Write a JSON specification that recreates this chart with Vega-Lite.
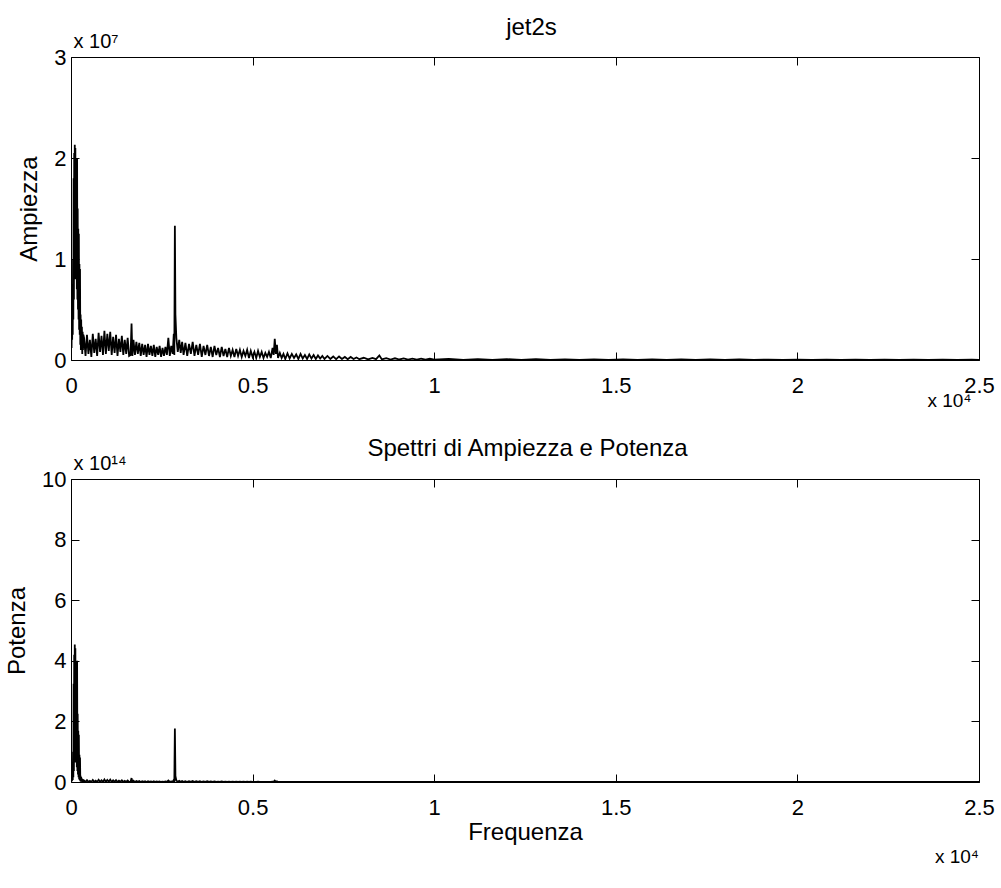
{
  "$schema": "https://vega.github.io/schema/vega-lite/v6.json",
  "background": "white",
  "padding": {"left": 5, "top": 14, "right": 2, "bottom": 2},
  "bounds": "flush",
  "spacing": 119,
  "config": {
    "font": "Liberation Sans",
    "view": {"stroke": "black", "strokeWidth": 1},
    "axis": {
      "domain": false, "grid": false, "tickColor": "black", "tickSize": -8, "tickWidth": 1,
      "labelColor": "black", "titleColor": "black", "labelFont": "Liberation Sans", "titleFont": "Liberation Sans",
      "labelFontSize": 22, "titleFontSize": 24, "titleFontWeight": "normal", "labelFlush": false, "labelOverlap": false
    },
    "title": {"font": "Liberation Sans", "fontWeight": "normal", "color": "black"}
  },
  "data": {"values": [
    {"freq": 0, "amp": 0.02, "pow": 0.0004},
    {"freq": 8, "amp": 0.7, "pow": 0.49},
    {"freq": 16, "amp": 0.12, "pow": 0.0144},
    {"freq": 24, "amp": 0.6, "pow": 0.36},
    {"freq": 32, "amp": 0.2, "pow": 0.04},
    {"freq": 40, "amp": 0.75, "pow": 0.5625},
    {"freq": 48, "amp": 0.25, "pow": 0.0625},
    {"freq": 56, "amp": 1.0, "pow": 1.0},
    {"freq": 64, "amp": 0.4, "pow": 0.16},
    {"freq": 72, "amp": 1.8, "pow": 3.24},
    {"freq": 80, "amp": 0.6, "pow": 0.36},
    {"freq": 88, "amp": 2.05, "pow": 4.2025},
    {"freq": 96, "amp": 0.9, "pow": 0.81},
    {"freq": 104, "amp": 2.13, "pow": 4.5369},
    {"freq": 112, "amp": 1.0, "pow": 1.0},
    {"freq": 120, "amp": 2.1, "pow": 4.41},
    {"freq": 128, "amp": 0.8, "pow": 0.64},
    {"freq": 136, "amp": 1.95, "pow": 3.8025},
    {"freq": 144, "amp": 0.9, "pow": 0.81},
    {"freq": 152, "amp": 2.0, "pow": 4.0},
    {"freq": 160, "amp": 0.7, "pow": 0.49},
    {"freq": 168, "amp": 2.0, "pow": 4.0},
    {"freq": 176, "amp": 0.6, "pow": 0.36},
    {"freq": 184, "amp": 1.5, "pow": 2.25},
    {"freq": 192, "amp": 0.5, "pow": 0.25},
    {"freq": 200, "amp": 1.3, "pow": 1.69},
    {"freq": 208, "amp": 0.4, "pow": 0.16},
    {"freq": 216, "amp": 1.25, "pow": 1.5625},
    {"freq": 224, "amp": 0.3, "pow": 0.09},
    {"freq": 232, "amp": 0.95, "pow": 0.9025},
    {"freq": 240, "amp": 0.25, "pow": 0.0625},
    {"freq": 248, "amp": 0.9, "pow": 0.81},
    {"freq": 256, "amp": 0.15, "pow": 0.0225},
    {"freq": 264, "amp": 0.45, "pow": 0.2025},
    {"freq": 272, "amp": 0.1, "pow": 0.01},
    {"freq": 280, "amp": 0.4, "pow": 0.16},
    {"freq": 290, "amp": 0.12, "pow": 0.0144},
    {"freq": 300, "amp": 0.33, "pow": 0.1089},
    {"freq": 310, "amp": 0.06, "pow": 0.0036},
    {"freq": 320, "amp": 0.28, "pow": 0.0784},
    {"freq": 330, "amp": 0.1, "pow": 0.01},
    {"freq": 340, "amp": 0.25, "pow": 0.0625},
    {"freq": 360, "amp": 0.22, "pow": 0.0484},
    {"freq": 400, "amp": 0.04, "pow": 0.0016},
    {"freq": 440, "amp": 0.25, "pow": 0.0625},
    {"freq": 480, "amp": 0.06, "pow": 0.0036},
    {"freq": 520, "amp": 0.2, "pow": 0.04},
    {"freq": 560, "amp": 0.03, "pow": 0.0009},
    {"freq": 600, "amp": 0.26, "pow": 0.0676},
    {"freq": 640, "amp": 0.07, "pow": 0.0049},
    {"freq": 680, "amp": 0.21, "pow": 0.0441},
    {"freq": 720, "amp": 0.04, "pow": 0.0016},
    {"freq": 760, "amp": 0.27, "pow": 0.0729},
    {"freq": 800, "amp": 0.08, "pow": 0.0064},
    {"freq": 840, "amp": 0.24, "pow": 0.0576},
    {"freq": 880, "amp": 0.05, "pow": 0.0025},
    {"freq": 920, "amp": 0.29, "pow": 0.0841},
    {"freq": 960, "amp": 0.06, "pow": 0.0036},
    {"freq": 1000, "amp": 0.26, "pow": 0.0676},
    {"freq": 1040, "amp": 0.09, "pow": 0.0081},
    {"freq": 1080, "amp": 0.28, "pow": 0.0784},
    {"freq": 1120, "amp": 0.05, "pow": 0.0025},
    {"freq": 1160, "amp": 0.23, "pow": 0.0529},
    {"freq": 1200, "amp": 0.07, "pow": 0.0049},
    {"freq": 1240, "amp": 0.25, "pow": 0.0625},
    {"freq": 1280, "amp": 0.04, "pow": 0.0016},
    {"freq": 1320, "amp": 0.21, "pow": 0.0441},
    {"freq": 1360, "amp": 0.08, "pow": 0.0064},
    {"freq": 1400, "amp": 0.24, "pow": 0.0576},
    {"freq": 1440, "amp": 0.05, "pow": 0.0025},
    {"freq": 1480, "amp": 0.2, "pow": 0.04},
    {"freq": 1520, "amp": 0.06, "pow": 0.0036},
    {"freq": 1560, "amp": 0.22, "pow": 0.0484},
    {"freq": 1600, "amp": 0.04, "pow": 0.0016},
    {"freq": 1640, "amp": 0.05, "pow": 0.0025},
    {"freq": 1667, "amp": 0.36, "pow": 0.1296},
    {"freq": 1690, "amp": 0.04, "pow": 0.0016},
    {"freq": 1720, "amp": 0.2, "pow": 0.04},
    {"freq": 1760, "amp": 0.05, "pow": 0.0025},
    {"freq": 1800, "amp": 0.18, "pow": 0.0324},
    {"freq": 1840, "amp": 0.06, "pow": 0.0036},
    {"freq": 1880, "amp": 0.17, "pow": 0.0289},
    {"freq": 1920, "amp": 0.04, "pow": 0.0016},
    {"freq": 1960, "amp": 0.16, "pow": 0.0256},
    {"freq": 2000, "amp": 0.05, "pow": 0.0025},
    {"freq": 2040, "amp": 0.15, "pow": 0.0225},
    {"freq": 2080, "amp": 0.03, "pow": 0.0009},
    {"freq": 2120, "amp": 0.16, "pow": 0.0256},
    {"freq": 2160, "amp": 0.05, "pow": 0.0025},
    {"freq": 2200, "amp": 0.14, "pow": 0.0196},
    {"freq": 2240, "amp": 0.04, "pow": 0.0016},
    {"freq": 2280, "amp": 0.15, "pow": 0.0225},
    {"freq": 2320, "amp": 0.03, "pow": 0.0009},
    {"freq": 2360, "amp": 0.13, "pow": 0.0169},
    {"freq": 2400, "amp": 0.05, "pow": 0.0025},
    {"freq": 2440, "amp": 0.14, "pow": 0.0196},
    {"freq": 2480, "amp": 0.03, "pow": 0.0009},
    {"freq": 2520, "amp": 0.12, "pow": 0.0144},
    {"freq": 2560, "amp": 0.04, "pow": 0.0016},
    {"freq": 2600, "amp": 0.13, "pow": 0.0169},
    {"freq": 2640, "amp": 0.05, "pow": 0.0025},
    {"freq": 2680, "amp": 0.22, "pow": 0.0484},
    {"freq": 2720, "amp": 0.04, "pow": 0.0016},
    {"freq": 2760, "amp": 0.14, "pow": 0.0196},
    {"freq": 2800, "amp": 0.06, "pow": 0.0036},
    {"freq": 2830, "amp": 0.26, "pow": 0.0676},
    {"freq": 2845, "amp": 0.05, "pow": 0.0025},
    {"freq": 2860, "amp": 1.33, "pow": 1.7689},
    {"freq": 2875, "amp": 0.45, "pow": 0.2025},
    {"freq": 2900, "amp": 0.22, "pow": 0.0484},
    {"freq": 2940, "amp": 0.08, "pow": 0.0064},
    {"freq": 2980, "amp": 0.2, "pow": 0.04},
    {"freq": 3020, "amp": 0.07, "pow": 0.0049},
    {"freq": 3060, "amp": 0.18, "pow": 0.0324},
    {"freq": 3100, "amp": 0.05, "pow": 0.0025},
    {"freq": 3150, "amp": 0.17, "pow": 0.0289},
    {"freq": 3200, "amp": 0.04, "pow": 0.0016},
    {"freq": 3250, "amp": 0.16, "pow": 0.0256},
    {"freq": 3300, "amp": 0.06, "pow": 0.0036},
    {"freq": 3350, "amp": 0.18, "pow": 0.0324},
    {"freq": 3400, "amp": 0.04, "pow": 0.0016},
    {"freq": 3450, "amp": 0.15, "pow": 0.0225},
    {"freq": 3500, "amp": 0.05, "pow": 0.0025},
    {"freq": 3550, "amp": 0.16, "pow": 0.0256},
    {"freq": 3600, "amp": 0.03, "pow": 0.0009},
    {"freq": 3650, "amp": 0.14, "pow": 0.0196},
    {"freq": 3700, "amp": 0.05, "pow": 0.0025},
    {"freq": 3750, "amp": 0.15, "pow": 0.0225},
    {"freq": 3800, "amp": 0.04, "pow": 0.0016},
    {"freq": 3850, "amp": 0.13, "pow": 0.0169},
    {"freq": 3900, "amp": 0.03, "pow": 0.0009},
    {"freq": 3950, "amp": 0.14, "pow": 0.0196},
    {"freq": 4000, "amp": 0.05, "pow": 0.0025},
    {"freq": 4050, "amp": 0.12, "pow": 0.0144},
    {"freq": 4100, "amp": 0.03, "pow": 0.0009},
    {"freq": 4150, "amp": 0.13, "pow": 0.0169},
    {"freq": 4200, "amp": 0.04, "pow": 0.0016},
    {"freq": 4250, "amp": 0.11, "pow": 0.0121},
    {"freq": 4300, "amp": 0.03, "pow": 0.0009},
    {"freq": 4350, "amp": 0.12, "pow": 0.0144},
    {"freq": 4400, "amp": 0.04, "pow": 0.0016},
    {"freq": 4450, "amp": 0.1, "pow": 0.01},
    {"freq": 4500, "amp": 0.03, "pow": 0.0009},
    {"freq": 4550, "amp": 0.11, "pow": 0.0121},
    {"freq": 4600, "amp": 0.04, "pow": 0.0016},
    {"freq": 4650, "amp": 0.1, "pow": 0.01},
    {"freq": 4700, "amp": 0.03, "pow": 0.0009},
    {"freq": 4750, "amp": 0.09, "pow": 0.0081},
    {"freq": 4800, "amp": 0.04, "pow": 0.0016},
    {"freq": 4850, "amp": 0.1, "pow": 0.01},
    {"freq": 4900, "amp": 0.02, "pow": 0.0004},
    {"freq": 4950, "amp": 0.09, "pow": 0.0081},
    {"freq": 5000, "amp": 0.03, "pow": 0.0009},
    {"freq": 5050, "amp": 0.08, "pow": 0.0064},
    {"freq": 5100, "amp": 0.02, "pow": 0.0004},
    {"freq": 5150, "amp": 0.09, "pow": 0.0081},
    {"freq": 5200, "amp": 0.03, "pow": 0.0009},
    {"freq": 5250, "amp": 0.08, "pow": 0.0064},
    {"freq": 5300, "amp": 0.02, "pow": 0.0004},
    {"freq": 5350, "amp": 0.07, "pow": 0.0049},
    {"freq": 5400, "amp": 0.03, "pow": 0.0009},
    {"freq": 5450, "amp": 0.08, "pow": 0.0064},
    {"freq": 5500, "amp": 0.02, "pow": 0.0004},
    {"freq": 5550, "amp": 0.12, "pow": 0.0144},
    {"freq": 5580, "amp": 0.05, "pow": 0.0025},
    {"freq": 5610, "amp": 0.21, "pow": 0.0441},
    {"freq": 5640, "amp": 0.06, "pow": 0.0036},
    {"freq": 5670, "amp": 0.15, "pow": 0.0225},
    {"freq": 5700, "amp": 0.02, "pow": 0.0004},
    {"freq": 5750, "amp": 0.07, "pow": 0.0049},
    {"freq": 5800, "amp": 0.02, "pow": 0.0004},
    {"freq": 5850, "amp": 0.06, "pow": 0.0036},
    {"freq": 5900, "amp": 0.01, "pow": 0.0001},
    {"freq": 5960, "amp": 0.065, "pow": 0.0042},
    {"freq": 6020, "amp": 0.015, "pow": 0.0002},
    {"freq": 6080, "amp": 0.06, "pow": 0.0036},
    {"freq": 6140, "amp": 0.02, "pow": 0.0004},
    {"freq": 6200, "amp": 0.055, "pow": 0.003},
    {"freq": 6260, "amp": 0.01, "pow": 0.0001},
    {"freq": 6320, "amp": 0.06, "pow": 0.0036},
    {"freq": 6380, "amp": 0.015, "pow": 0.0002},
    {"freq": 6440, "amp": 0.05, "pow": 0.0025},
    {"freq": 6500, "amp": 0.01, "pow": 0.0001},
    {"freq": 6560, "amp": 0.055, "pow": 0.003},
    {"freq": 6620, "amp": 0.015, "pow": 0.0002},
    {"freq": 6680, "amp": 0.05, "pow": 0.0025},
    {"freq": 6740, "amp": 0.01, "pow": 0.0001},
    {"freq": 6800, "amp": 0.045, "pow": 0.002},
    {"freq": 6860, "amp": 0.015, "pow": 0.0002},
    {"freq": 6920, "amp": 0.04, "pow": 0.0016},
    {"freq": 6980, "amp": 0.01, "pow": 0.0001},
    {"freq": 7060, "amp": 0.04, "pow": 0.0016},
    {"freq": 7140, "amp": 0.01, "pow": 0.0001},
    {"freq": 7220, "amp": 0.035, "pow": 0.0012},
    {"freq": 7300, "amp": 0.008, "pow": 0.0001},
    {"freq": 7380, "amp": 0.035, "pow": 0.0012},
    {"freq": 7460, "amp": 0.01, "pow": 0.0001},
    {"freq": 7540, "amp": 0.03, "pow": 0.0009},
    {"freq": 7620, "amp": 0.008, "pow": 0.0001},
    {"freq": 7700, "amp": 0.03, "pow": 0.0009},
    {"freq": 7780, "amp": 0.01, "pow": 0.0001},
    {"freq": 7860, "amp": 0.025, "pow": 0.0006},
    {"freq": 7940, "amp": 0.008, "pow": 0.0001},
    {"freq": 8060, "amp": 0.022, "pow": 0.0005},
    {"freq": 8180, "amp": 0.006, "pow": 0.0},
    {"freq": 8300, "amp": 0.02, "pow": 0.0004},
    {"freq": 8400, "amp": 0.008, "pow": 0.0001},
    {"freq": 8490, "amp": 0.045, "pow": 0.002},
    {"freq": 8560, "amp": 0.006, "pow": 0.0},
    {"freq": 8680, "amp": 0.018, "pow": 0.0003},
    {"freq": 8800, "amp": 0.005, "pow": 0.0},
    {"freq": 8920, "amp": 0.017, "pow": 0.0003},
    {"freq": 9040, "amp": 0.005, "pow": 0.0},
    {"freq": 9160, "amp": 0.015, "pow": 0.0002},
    {"freq": 9280, "amp": 0.004, "pow": 0.0},
    {"freq": 9400, "amp": 0.014, "pow": 0.0002},
    {"freq": 9520, "amp": 0.004, "pow": 0.0},
    {"freq": 9640, "amp": 0.013, "pow": 0.0002},
    {"freq": 9760, "amp": 0.003, "pow": 0.0},
    {"freq": 9880, "amp": 0.012, "pow": 0.0001},
    {"freq": 10000, "amp": 0.003, "pow": 0.0},
    {"freq": 10400, "amp": 0.01, "pow": 0.0001},
    {"freq": 10800, "amp": 0.002, "pow": 0.0},
    {"freq": 11200, "amp": 0.009, "pow": 0.0001},
    {"freq": 11600, "amp": 0.002, "pow": 0.0},
    {"freq": 12000, "amp": 0.008, "pow": 0.0001},
    {"freq": 12400, "amp": 0.002, "pow": 0.0},
    {"freq": 12800, "amp": 0.008, "pow": 0.0001},
    {"freq": 13200, "amp": 0.002, "pow": 0.0},
    {"freq": 13600, "amp": 0.007, "pow": 0.0},
    {"freq": 14000, "amp": 0.001, "pow": 0.0},
    {"freq": 14400, "amp": 0.007, "pow": 0.0},
    {"freq": 14800, "amp": 0.001, "pow": 0.0},
    {"freq": 15200, "amp": 0.006, "pow": 0.0},
    {"freq": 15600, "amp": 0.001, "pow": 0.0},
    {"freq": 16000, "amp": 0.006, "pow": 0.0},
    {"freq": 16400, "amp": 0.001, "pow": 0.0},
    {"freq": 16800, "amp": 0.005, "pow": 0.0},
    {"freq": 17200, "amp": 0.001, "pow": 0.0},
    {"freq": 17600, "amp": 0.005, "pow": 0.0},
    {"freq": 18000, "amp": 0.001, "pow": 0.0},
    {"freq": 18400, "amp": 0.005, "pow": 0.0},
    {"freq": 18800, "amp": 0.001, "pow": 0.0},
    {"freq": 19200, "amp": 0.004, "pow": 0.0},
    {"freq": 19600, "amp": 0.001, "pow": 0.0},
    {"freq": 20000, "amp": 0.004, "pow": 0.0},
    {"freq": 20400, "amp": 0.001, "pow": 0.0},
    {"freq": 20800, "amp": 0.004, "pow": 0.0},
    {"freq": 21200, "amp": 0.001, "pow": 0.0},
    {"freq": 21600, "amp": 0.004, "pow": 0.0},
    {"freq": 22000, "amp": 0.001, "pow": 0.0},
    {"freq": 22400, "amp": 0.003, "pow": 0.0},
    {"freq": 22800, "amp": 0.001, "pow": 0.0},
    {"freq": 23200, "amp": 0.003, "pow": 0.0},
    {"freq": 23600, "amp": 0.001, "pow": 0.0},
    {"freq": 24000, "amp": 0.003, "pow": 0.0},
    {"freq": 24400, "amp": 0.001, "pow": 0.0},
    {"freq": 24800, "amp": 0.003, "pow": 0.0},
    {"freq": 25000, "amp": 0.001, "pow": 0.0}
  ]},
  "vconcat": [
    {
      "width": 908,
      "height": 303,
      "layer": [
        {
          "mark": {"type": "line", "color": "black", "strokeWidth": 1.8, "clip": true},
          "encoding": {
            "x": {"field": "freq", "type": "quantitative", "scale": {"domain": [0, 25000], "nice": false},
              "axis": {"orient": "bottom", "values": [0, 5000, 10000, 15000, 20000, 25000], "labelExpr": "'' + datum.value / 10000", "labelPadding": 23,
                "title": "x 10⁴", "titleFontSize": 19, "titleX": 900, "titleY": 46, "titleAlign": "right", "titleBaseline": "alphabetic", "titleAngle": 0}},
            "y": {"field": "amp", "type": "quantitative", "scale": {"domain": [0, 3], "nice": false},
              "axis": {"orient": "left", "values": [0, 1, 2, 3], "labelPadding": 13, "title": "Ampiezza", "titlePadding": 12}}
          }
        },
        {
          "mark": {"type": "line", "opacity": 0},
          "encoding": {
            "x": {"field": "freq", "type": "quantitative", "scale": {"domain": [0, 25000], "nice": false},
              "axis": {"orient": "top", "values": [0, 5000, 10000, 15000, 20000, 25000], "labels": false,
                "title": "jet2s", "titleX": 460, "titleY": -23, "titleAlign": "center", "titleBaseline": "alphabetic", "titleAngle": 0}},
            "y": {"field": "amp", "type": "quantitative", "scale": {"domain": [0, 3], "nice": false},
              "axis": {"orient": "right", "values": [0, 1, 2, 3], "labels": false,
                "title": "x 10⁷", "titleFontSize": 20, "titleX": -906, "titleY": -10, "titleAlign": "left", "titleBaseline": "alphabetic", "titleAngle": 0}}
          }
        }
      ],
      "resolve": {"axis": {"x": "independent", "y": "independent"}}
    },
    {
      "width": 908,
      "height": 303,
      "title": {"text": "x 10⁴", "orient": "bottom", "anchor": "end", "frame": "group", "fontSize": 19, "offset": 4},
      "layer": [
        {
          "mark": {"type": "line", "color": "black", "strokeWidth": 1.8, "clip": true},
          "encoding": {
            "x": {"field": "freq", "type": "quantitative", "scale": {"domain": [0, 25000], "nice": false},
              "axis": {"orient": "bottom", "values": [0, 5000, 10000, 15000, 20000, 25000], "labelExpr": "'' + datum.value / 10000", "labelPadding": 23,
                "title": "Frequenza", "titlePadding": 2}},
            "y": {"field": "pow", "type": "quantitative", "scale": {"domain": [0, 10], "nice": false},
              "axis": {"orient": "left", "values": [0, 2, 4, 6, 8, 10], "labelPadding": 13, "title": "Potenza", "titlePadding": 12}}
          }
        },
        {
          "mark": {"type": "line", "opacity": 0},
          "encoding": {
            "x": {"field": "freq", "type": "quantitative", "scale": {"domain": [0, 25000], "nice": false},
              "axis": {"orient": "top", "values": [0, 5000, 10000, 15000, 20000, 25000], "labels": false,
                "title": "Spettri di Ampiezza e Potenza", "titleX": 456, "titleY": -24, "titleAlign": "center", "titleBaseline": "alphabetic", "titleAngle": 0}},
            "y": {"field": "pow", "type": "quantitative", "scale": {"domain": [0, 10], "nice": false},
              "axis": {"orient": "right", "values": [0, 2, 4, 6, 8, 10], "labels": false,
                "title": "x 10¹⁴", "titleFontSize": 20, "titleX": -906, "titleY": -10, "titleAlign": "left", "titleBaseline": "alphabetic", "titleAngle": 0}}
          }
        }
      ],
      "resolve": {"axis": {"x": "independent", "y": "independent"}}
    }
  ]
}
